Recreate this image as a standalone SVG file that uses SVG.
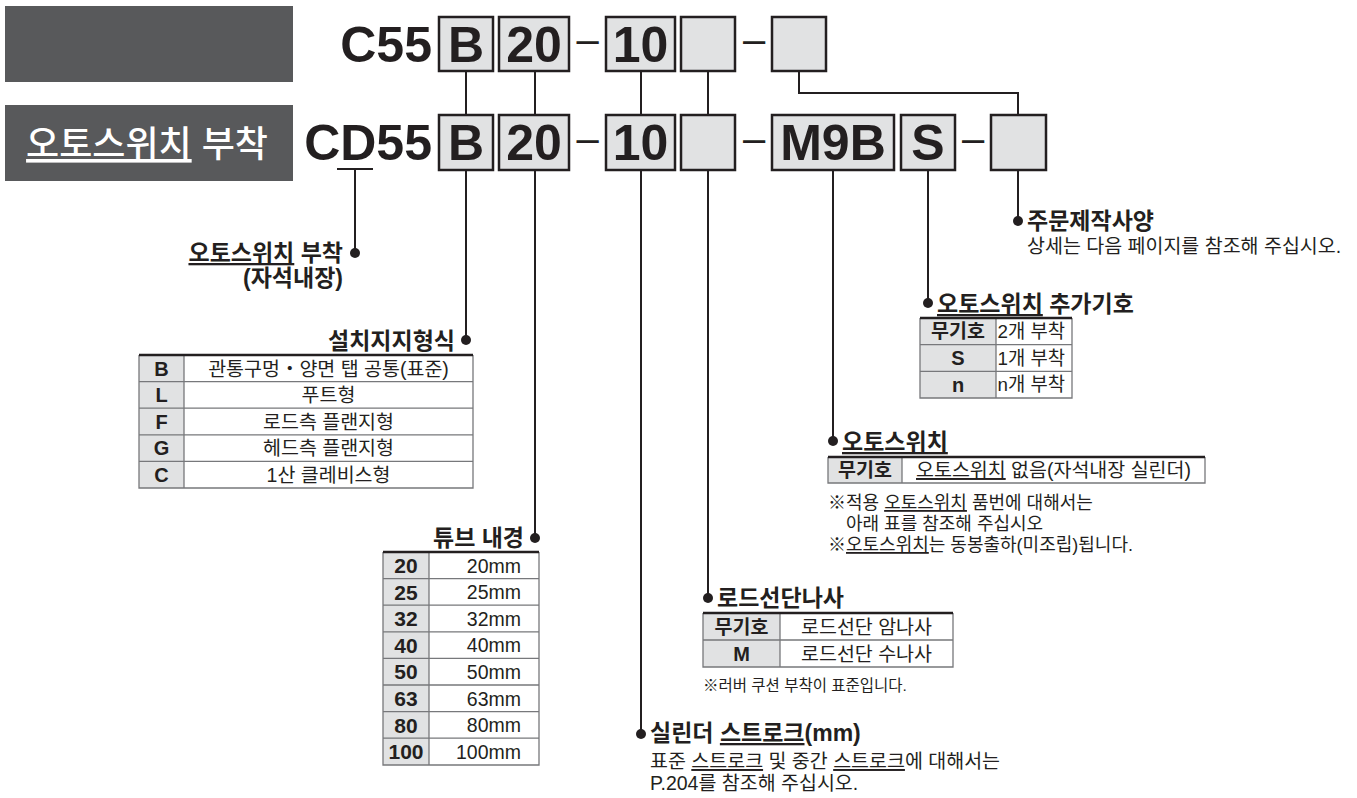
<svg xmlns="http://www.w3.org/2000/svg" width="1357" height="798" viewBox="0 0 1357 798">
<style>
text{font-family:'Liberation Sans','Noto Sans CJK KR',sans-serif;fill:#231f20}
.hd{fill:#58595b}
.hdt{fill:#fff;font-size:36px;font-weight:500}
.code{font-size:50px;font-weight:bold}
.dash{font-size:40px}
.box{fill:#e1e2e3;stroke:#231f20;stroke-width:2.5}
.ln{stroke:#231f20;stroke-width:2;fill:none}
.dot{fill:#231f20}
.ttl{font-size:23px;font-weight:bold}
.txt{font-size:19.5px}
.note{font-size:18px}
.snote{font-size:15.5px}
.tk{font-size:20px;font-weight:bold}
.tkb{font-size:21px;font-weight:bold}
.tkk{font-size:19.5px;font-weight:bold}
.tv{font-size:19.5px}
.tvs{font-size:18.8px}
.kc{fill:#e1e2e3}
.vc{fill:#fff}
.tg{stroke:#77787b;stroke-width:1.3;fill:none}
.tt{stroke:#231f20;stroke-width:2.5}
.u{text-decoration:underline}
</style>

<g id="header">
<rect class="hd" x="5" y="6" width="288" height="76"/>
<rect class="hd" x="5" y="105" width="288" height="76"/>
<text class="hdt" x="147" y="157" text-anchor="middle"><tspan class="u" style="fill:#fff">오토스위치</tspan> 부착</text>
</g>

<g id="code-row1">
<text class="code" x="432" y="62" text-anchor="end">C55</text>
<rect class="box" x="439" y="17" width="54" height="54"/>
<text class="code" x="466" y="62" text-anchor="middle">B</text>
<rect class="box" x="499" y="17" width="70" height="54"/>
<text class="code" x="534" y="62" text-anchor="middle">20</text>
<text class="dash" x="587.5" y="53" text-anchor="middle">–</text>
<rect class="box" x="606" y="17" width="69" height="54"/>
<text class="code" x="640.5" y="62" text-anchor="middle">10</text>
<rect class="box" x="681" y="17" width="54" height="54"/>
<text class="dash" x="754" y="53" text-anchor="middle">–</text>
<rect class="box" x="772" y="17" width="54" height="54"/>
</g>

<g id="code-row2">
<text class="code" x="432" y="160" text-anchor="end">CD55</text>
<rect class="box" x="439" y="115" width="54" height="55"/>
<text class="code" x="466" y="160" text-anchor="middle">B</text>
<rect class="box" x="499" y="115" width="70" height="55"/>
<text class="code" x="534" y="160" text-anchor="middle">20</text>
<text class="dash" x="587.5" y="152" text-anchor="middle">–</text>
<rect class="box" x="606" y="115" width="69" height="55"/>
<text class="code" x="640.5" y="160" text-anchor="middle">10</text>
<rect class="box" x="681" y="115" width="54" height="55"/>
<text class="dash" x="754" y="152" text-anchor="middle">–</text>
<rect class="box" x="772" y="115" width="122" height="55"/>
<text class="code" x="833" y="160" text-anchor="middle">M9B</text>
<rect class="box" x="901" y="115" width="54" height="55"/>
<text class="code" x="928" y="160" text-anchor="middle">S</text>
<text class="dash" x="973" y="152" text-anchor="middle">–</text>
<rect class="box" x="991" y="115" width="55" height="55"/>
</g>

<g id="connectors">
<path class="ln" d="M337,169 H373 M355,169 V253"/>
<path class="ln" d="M466,71 V115 M466,170 V340"/>
<path class="ln" d="M535,71 V115 M535,170 V538"/>
<path class="ln" d="M641,71 V115 M641,170 V734"/>
<path class="ln" d="M708,71 V115 M708,170 V598"/>
<path class="ln" d="M799,71 V93 H1018 V115 M1018,170 V221"/>
<path class="ln" d="M833,170 V441"/>
<path class="ln" d="M928,170 V303"/>
<circle class="dot" cx="355" cy="253" r="5"/>
<circle class="dot" cx="466" cy="340" r="5"/>
<circle class="dot" cx="535" cy="538" r="5"/>
<circle class="dot" cx="641" cy="734" r="5"/>
<circle class="dot" cx="708" cy="598" r="5"/>
<circle class="dot" cx="1018" cy="221" r="5"/>
<circle class="dot" cx="833" cy="441" r="5"/>
<circle class="dot" cx="928" cy="303" r="5"/>
</g>

<g id="node-auto-switch-mount">
<text class="ttl" x="343" y="261" text-anchor="end"><tspan class="u">오토스위치</tspan> 부착</text>
<text class="ttl" x="343" y="286" text-anchor="end">(자석내장)</text>
</g>

<g id="node-mounting">
<text class="ttl" x="455" y="349" text-anchor="end">설치지지형식</text>
<rect class="kc" x="139" y="355" width="45" height="133"/>
<rect class="vc" x="184" y="355" width="289" height="133"/>
<path class="tg" d="M139,355 V488 H473 V355 M184,355 V488 M139,381.6 H473 M139,408.2 H473 M139,434.8 H473 M139,461.4 H473"/>
<line class="tt" x1="139" y1="355" x2="473" y2="355"/>
<text class="tk" x="161.5" y="375.5" text-anchor="middle">B</text>
<text class="tk" x="161.5" y="402" text-anchor="middle">L</text>
<text class="tk" x="161.5" y="428.7" text-anchor="middle">F</text>
<text class="tk" x="161.5" y="455.3" text-anchor="middle">G</text>
<text class="tk" x="161.5" y="482" text-anchor="middle">C</text>
<text class="tv" x="328.5" y="375.5" text-anchor="middle">관통구멍・양면 탭 공통(표준)</text>
<text class="tv" x="328.5" y="402" text-anchor="middle">푸트형</text>
<text class="tv" x="328.5" y="428.7" text-anchor="middle">로드측 플랜지형</text>
<text class="tv" x="328.5" y="455.3" text-anchor="middle">헤드측 플랜지형</text>
<text class="tv" x="328.5" y="482" text-anchor="middle">1산 클레비스형</text>
</g>

<g id="node-bore">
<text class="ttl" x="524" y="546" text-anchor="end">튜브 내경</text>
<rect class="kc" x="383" y="552" width="46" height="213"/>
<rect class="vc" x="429" y="552" width="110" height="213"/>
<path class="tg" d="M383,552 V765 H539 V552 M429,552 V765 M383,578.6 H539 M383,605.2 H539 M383,631.8 H539 M383,658.4 H539 M383,685 H539 M383,711.6 H539 M383,738.2 H539"/>
<line class="tt" x1="383" y1="552" x2="539" y2="552"/>
<text class="tkb" x="406" y="573" text-anchor="middle">20</text>
<text class="tkb" x="406" y="599.6" text-anchor="middle">25</text>
<text class="tkb" x="406" y="626.2" text-anchor="middle">32</text>
<text class="tkb" x="406" y="652.8" text-anchor="middle">40</text>
<text class="tkb" x="406" y="679.4" text-anchor="middle">50</text>
<text class="tkb" x="406" y="706" text-anchor="middle">63</text>
<text class="tkb" x="406" y="732.6" text-anchor="middle">80</text>
<text class="tkb" x="406" y="759.2" text-anchor="middle">100</text>
<text class="tv" x="521" y="572.5" text-anchor="end">20mm</text>
<text class="tv" x="521" y="599.1" text-anchor="end">25mm</text>
<text class="tv" x="521" y="625.7" text-anchor="end">32mm</text>
<text class="tv" x="521" y="652.3" text-anchor="end">40mm</text>
<text class="tv" x="521" y="678.9" text-anchor="end">50mm</text>
<text class="tv" x="521" y="705.5" text-anchor="end">63mm</text>
<text class="tv" x="521" y="732.1" text-anchor="end">80mm</text>
<text class="tv" x="521" y="758.7" text-anchor="end">100mm</text>
</g>

<g id="node-stroke">
<text class="ttl" x="650" y="741">실린더 <tspan class="u">스트로크</tspan>(mm)</text>
<text class="txt" x="650" y="768">표준 <tspan class="u">스트로크</tspan> 및 중간 <tspan class="u">스트로크</tspan>에 대해서는</text>
<text class="txt" x="650" y="790">P.204를 참조해 주십시오.</text>
</g>

<g id="node-rod-end">
<text class="ttl" x="717" y="606">로드선단나사</text>
<rect class="kc" x="703" y="613" width="77" height="54"/>
<rect class="vc" x="780" y="613" width="173" height="54"/>
<path class="tg" d="M703,613 V667 H953 V613 M780,613 V667 M703,640 H953"/>
<line class="tt" x1="703" y1="613" x2="953" y2="613"/>
<text class="tkk" x="741.5" y="633.5" text-anchor="middle">무기호</text>
<text class="tk" x="741.5" y="660.5" text-anchor="middle">M</text>
<text class="tv" x="866.5" y="633.5" text-anchor="middle">로드선단 암나사</text>
<text class="tv" x="866.5" y="660.5" text-anchor="middle">로드선단 수나사</text>
<text class="snote" x="703" y="691">※러버 쿠션 부착이 표준입니다.</text>
</g>

<g id="node-auto-switch">
<text class="ttl" x="842" y="450"><tspan class="u">오토스위치</tspan></text>
<rect class="kc" x="828" y="457" width="74" height="26"/>
<rect class="vc" x="902" y="457" width="303" height="26"/>
<path class="tg" d="M828,457 V483 H1205 V457 M902,457 V483"/>
<line class="tt" x1="828" y1="457" x2="1205" y2="457"/>
<text class="tkk" x="865" y="477" text-anchor="middle">무기호</text>
<text class="tv" x="1053.5" y="477" text-anchor="middle"><tspan class="u">오토스위치</tspan> 없음(자석내장 실린더)</text>
<text class="note" x="828" y="509">※적용 <tspan class="u">오토스위치</tspan> 품번에 대해서는</text>
<text class="note" x="846" y="530">아래 표를 참조해 주십시오</text>
<text class="note" x="828" y="551">※<tspan class="u">오토스위치</tspan>는 동봉출하(미조립)됩니다.</text>
</g>

<g id="node-switch-qty">
<text class="ttl" x="937" y="312"><tspan class="u">오토스위치</tspan> 추가기호</text>
<rect class="kc" x="920" y="318" width="76" height="80"/>
<rect class="vc" x="996" y="318" width="76" height="80"/>
<path class="tg" d="M920,318 V398 H1072 V318 M996,318 V398 M920,344.7 H1072 M920,371.3 H1072"/>
<line class="tt" x1="920" y1="318" x2="1072" y2="318"/>
<text class="tkk" x="958" y="338" text-anchor="middle">무기호</text>
<text class="tk" x="958" y="365" text-anchor="middle">S</text>
<text class="tk" x="958" y="391.5" text-anchor="middle">n</text>
<text class="tvs" x="997.5" y="338">2개 부착</text>
<text class="tvs" x="997.5" y="364.5">1개 부착</text>
<text class="tvs" x="997.5" y="391">n개 부착</text>
</g>

<g id="node-made-to-order">
<text class="ttl" x="1027" y="229">주문제작사양</text>
<text class="txt" x="1027" y="253">상세는 다음 페이지를 참조해 주십시오.</text>
</g>
</svg>
